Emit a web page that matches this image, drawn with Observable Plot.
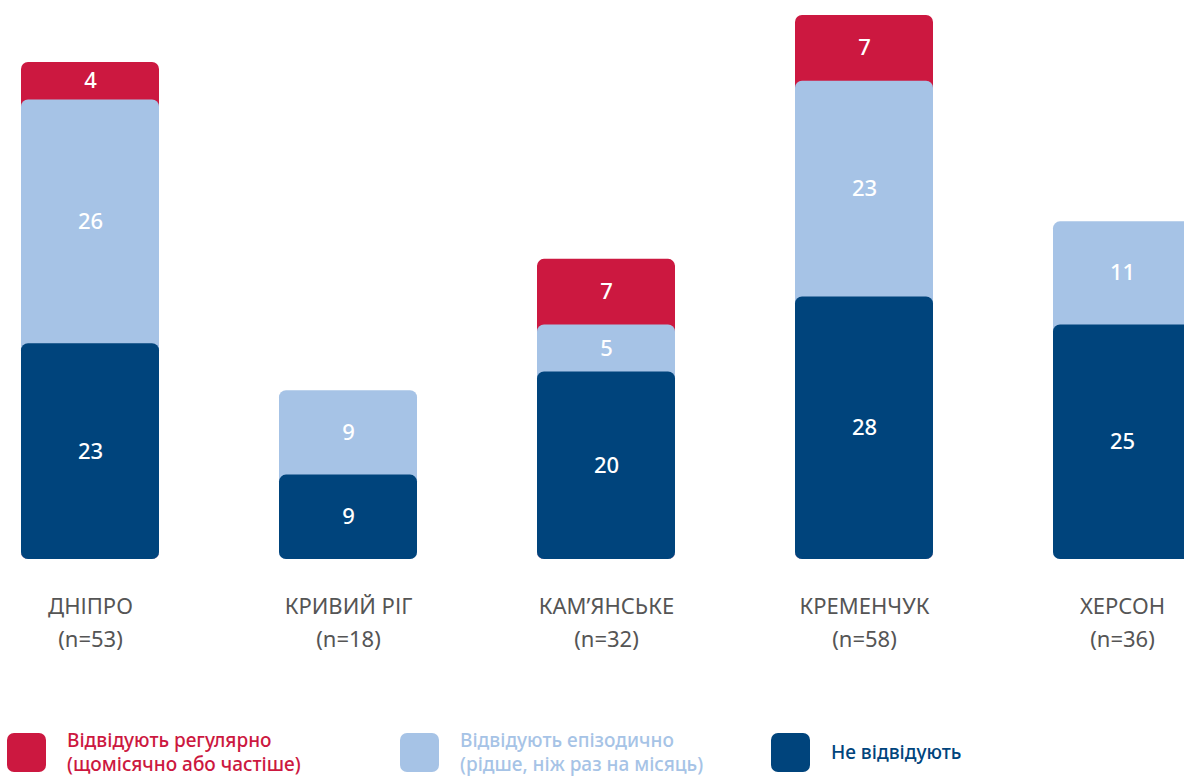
<!DOCTYPE html>
<html>
<head>
<meta charset="utf-8">
<script src="https://cdn.jsdelivr.net/npm/d3@7"></script>
<script src="https://cdn.jsdelivr.net/npm/@observablehq/plot@0.6"></script>
<style>
  html, body { margin: 0; padding: 0; background: #fff; overflow: hidden; }
  #wrap { position: relative; width: 1184px; height: 778px; overflow: hidden; font-family: "Noto Sans", sans-serif; }
  #chart svg { overflow: hidden; display: block; }
  .leg { position: absolute; top: 733px; height: 39px; }
  .sw { position: absolute; left: 0; top: 0; width: 39px; height: 39px; border-radius: 7px; }
  .lt { position: absolute; left: 60px; top: -5px; white-space: nowrap; font-size: 19px; font-weight: 500; line-height: 24px; }
  .lt.single { top: 7px; }
</style>
</head>
<body>
<div id="wrap">
  <div id="chart"></div>
  <div id="legend"></div>
</div>
<script>
const cities = ["ДНІПРО", "КРИВИЙ РІГ", "КАМ’ЯНСЬКЕ", "КРЕМЕНЧУК", "ХЕРСОН"];
const sampleSizes = [53, 18, 32, 58, 36];
const notVisiting = [23, 9, 20, 28, 25];
const episodic = [26, 9, 5, 23, 11];
const regular = [4, 0, 7, 7, 0];
const seriesNames = [
  "Відвідують регулярно\n(щомісячно або частіше)",
  "Відвідують епізодично\n(рідше, ніж раз на місяць)",
  "Не відвідують"
];
const seriesColors = ["#CC1840", "#A6C3E6", "#00447C"];
const legendLeft = [7, 400, 771];

// Build segments: stacked from bottom (dark), then light, then red
const segs = [];
cities.forEach((c, i) => {
  const vals = [notVisiting[i], episodic[i], regular[i]];
  const keys = [2, 1, 0];
  let base = 0;
  vals.forEach((v, k) => {
    if (v > 0) segs.push({city: c, s: keys[k], y1: base, y2: base + v, v});
    base += v;
  });
});
// draw top segments first so lower ones overlap their rounded bottoms
const drawOrder = segs.slice().sort((a, b) => a.s - b.s);

const labelData = cities.map((c, i) => ({city: c, n: sampleSizes[i]}));

const chart = Plot.plot({
  width: 1184,
  height: 715,
  marginTop: 15,
  marginBottom: 156,
  marginLeft: 0,
  marginRight: 0,
  style: {fontFamily: "Noto Sans, sans-serif", background: "#fff"},
  x: {domain: cities, range: [19, 1192], paddingInner: 0.4667, paddingOuter: 0, axis: null},
  y: {domain: [0, 58], axis: null},
  marks: [
    Plot.rectY(drawOrder, {
      x: "city", y1: 0, y2: "y2",
      fill: d => seriesColors[d.s], rx: 7
    }),
    Plot.text(segs, {
      x: "city", y: d => (d.y1 + d.y2) / 2, text: d => String(d.v),
      fill: "white", fontSize: 22, fontWeight: 500
    }),
    Plot.text(labelData, {
      x: "city", y: 0, dy: 47, text: "city",
      fill: "#555555", fontSize: 22, fontWeight: 400
    }),
    Plot.text(labelData, {
      x: "city", y: 0, dy: 80, text: d => `(n=${d.n})`,
      fill: "#555555", fontSize: 22, fontWeight: 400
    })
  ]
});
document.getElementById("chart").appendChild(chart);

const legend = document.getElementById("legend");
seriesNames.forEach((name, i) => {
  const item = document.createElement("div");
  item.className = "leg";
  item.style.left = legendLeft[i] + "px";
  const sw = document.createElement("div");
  sw.className = "sw";
  sw.style.background = seriesColors[i];
  const t = document.createElement("div");
  const lines = name.split("\n");
  t.className = "lt" + (lines.length === 1 ? " single" : "");
  t.style.color = seriesColors[i];
  t.innerHTML = lines.join("<br>");
  item.appendChild(sw);
  item.appendChild(t);
  legend.appendChild(item);
});
</script>
</body>
</html>
